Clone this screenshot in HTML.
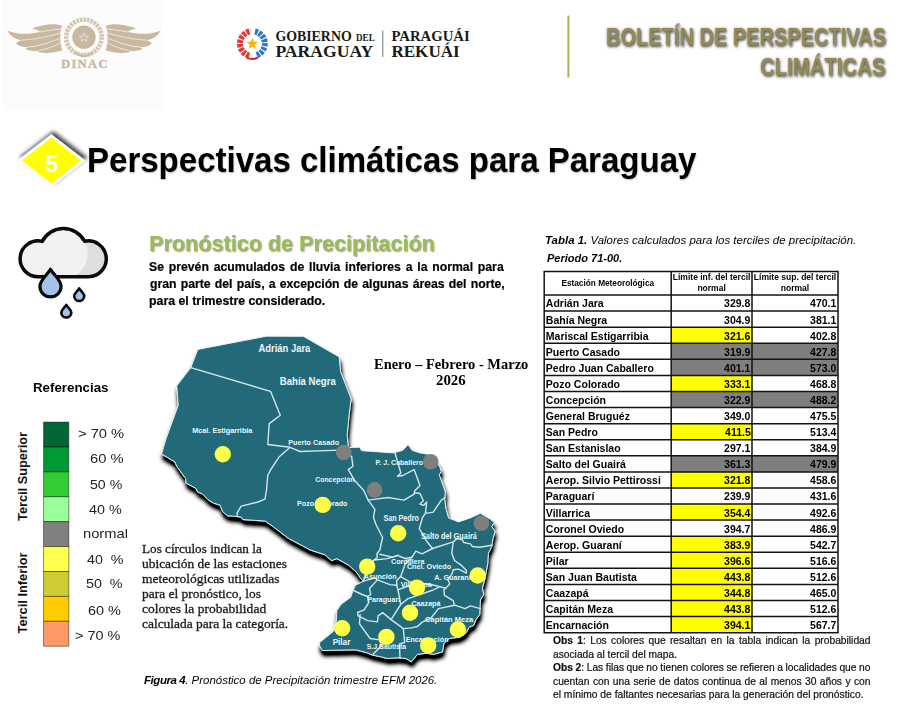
<!DOCTYPE html>
<html lang="es"><head><meta charset="utf-8"><title>Boletín de Perspectivas Climáticas</title>
<style>
html,body{margin:0;padding:0;background:#fff;}
body{width:903px;height:715px;overflow:hidden;font-family:"Liberation Sans",sans-serif;}
#page{position:relative;width:903px;height:715px;overflow:hidden;background:#fff;}
.t{position:absolute;white-space:nowrap;transform-origin:0 0;line-height:normal;margin:0;padding:0;}
.pb{display:inline-block;width:0;height:0;}
svg{position:absolute;left:0;top:0;}
.t{white-space:pre;}
#tb{position:absolute;left:544.2px;top:271.4px;border-collapse:collapse;border-spacing:0;table-layout:fixed;width:293.8px;font-weight:bold;color:#000;}
#tb td,#tb th{border:0;padding:0;margin:0;overflow:hidden;white-space:nowrap;}
#tb th{height:23.6px;font-size:8.7px;line-height:11px;text-align:center;vertical-align:middle;}
#tb td{height:16.08px;font-size:11.3px;line-height:16.08px;}
#tb td.n{text-align:left;}
#tb td.n span{display:inline-block;padding-left:2px;transform:scaleX(.93);transform-origin:0 50%;position:relative;top:.5px;}
#tb td.v{text-align:right;}
#tb td.v span{display:inline-block;padding-right:1.5px;transform:scaleX(.93);transform-origin:100% 50%;position:relative;top:.5px;}
#tb td.y{background:#ffff00;}
#tb td.g{background:#7f7f7f;}
#tb th span{display:inline-block;transform:scaleX(.95);}
#tb th .h2{position:relative;top:-.5px;transform:scaleX(.98);}

</style></head><body>
<div id="page">
<svg id="gfx" width="903" height="715" viewBox="0 0 903 715" font-family="'Liberation Sans', sans-serif">
<defs>
<filter id="msh" x="-10%" y="-10%" width="120%" height="125%"><feGaussianBlur in="SourceAlpha" stdDeviation="2"/><feOffset dx="1.0" dy="4.8"/><feComponentTransfer><feFuncA type="linear" slope="1.35"/></feComponentTransfer><feMerge><feMergeNode/><feMergeNode in="SourceGraphic"/></feMerge></filter>
<filter id="dsh" x="-20%" y="-20%" width="140%" height="150%"><feGaussianBlur in="SourceAlpha" stdDeviation="2.1"/><feOffset dx="1.8" dy="-2.6"/><feComponentTransfer><feFuncA type="linear" slope=".75"/></feComponentTransfer><feMerge><feMergeNode/><feMergeNode in="SourceGraphic"/></feMerge></filter>
</defs>
<rect x="2" y="0" width="161" height="110" fill="#fcfcfc"/>
<rect x="567.4" y="15.5" width="2" height="62" fill="#9bbb59"/>
<g id="logos">
<g transform="translate(0,10) scale(0.18825)">
<g><path d="M330,84 C300,72 250,70 170,97 C190,104 205,110 215,116 C150,132 90,130 40,110 C55,140 80,155 112,160 C100,168 92,172 85,178 C100,192 120,198 145,198 C140,202 138,204 135,206 C155,218 180,220 205,216 C203,219 201,221 200,223 C240,232 290,228 332,214 C318,190 316,120 330,84 Z" fill="#c9b8a0"/><path d="M215,116 C250,110 290,104 328,100" fill="none" stroke="#fcfcfc" stroke-width="4" stroke-linecap="round" opacity=".9"/><path d="M112,160 C180,158 260,140 322,122" fill="none" stroke="#fcfcfc" stroke-width="4" stroke-linecap="round" opacity=".9"/><path d="M145,198 C210,192 270,172 318,150" fill="none" stroke="#fcfcfc" stroke-width="4" stroke-linecap="round" opacity=".9"/><path d="M205,216 C250,208 290,192 320,176" fill="none" stroke="#fcfcfc" stroke-width="4" stroke-linecap="round" opacity=".9"/></g>
<g transform="translate(892,0) scale(-1,1)"><path d="M330,84 C300,72 250,70 170,97 C190,104 205,110 215,116 C150,132 90,130 40,110 C55,140 80,155 112,160 C100,168 92,172 85,178 C100,192 120,198 145,198 C140,202 138,204 135,206 C155,218 180,220 205,216 C203,219 201,221 200,223 C240,232 290,228 332,214 C318,190 316,120 330,84 Z" fill="#c9b8a0"/><path d="M215,116 C250,110 290,104 328,100" fill="none" stroke="#fcfcfc" stroke-width="4" stroke-linecap="round" opacity=".9"/><path d="M112,160 C180,158 260,140 322,122" fill="none" stroke="#fcfcfc" stroke-width="4" stroke-linecap="round" opacity=".9"/><path d="M145,198 C210,192 270,172 318,150" fill="none" stroke="#fcfcfc" stroke-width="4" stroke-linecap="round" opacity=".9"/><path d="M205,216 C250,208 290,192 320,176" fill="none" stroke="#fcfcfc" stroke-width="4" stroke-linecap="round" opacity=".9"/></g>
<circle cx="446" cy="145" r="94" fill="none" stroke="#c9b8a0" stroke-width="24" stroke-dasharray="14 5" opacity=".8"/>
<path d="M400,225 C430,250 465,250 495,225" fill="none" stroke="#c9b8a0" stroke-width="9"/>
<circle cx="446" cy="145" r="62" fill="#c9b8a0"/>
<polygon points="446.0,122.0 451.9,138.9 469.8,139.3 455.5,150.1 460.7,167.2 446.0,157.0 431.3,167.2 436.5,150.1 422.2,139.3 440.1,138.9" fill="none" stroke="#efe8dd" stroke-width="4"/>
</g>
<text x="61.2" y="68.4" font-family="'Liberation Serif', serif" font-weight="bold" font-size="12.3" fill="#c9b8a0" stroke="#c9b8a0" stroke-width=".35" textLength="46.1" lengthAdjust="spacing">DINAC</text>
<path d="M249.19,55.58 A12.4,12.4 0 0 1 250.67,31.32" fill="none" stroke="#dc3a3a" stroke-width="6" stroke-dasharray="3.2 1" stroke-linecap="butt"/>
<path d="M254.98,31.47 A12.4,12.4 0 0 1 256.64,55.25" fill="none" stroke="#2f74d0" stroke-width="6" stroke-dasharray="3 1.1" stroke-linecap="butt"/>
<path d="M246.5,57.5 C250,59.5 254,59.5 258,57.5" fill="none" stroke="#c62f35" stroke-width="2"/>
<polygon points="252.40,37.60 253.93,41.80 258.39,41.95 254.87,44.70 256.10,49.00 252.40,46.50 248.70,49.00 249.93,44.70 246.41,41.95 250.87,41.80" fill="#f6b40e"/>
<text x="275.4" y="40.9" font-family="'Liberation Serif', serif" font-weight="bold" fill="#1a1a1a" font-size="15.3" textLength="76.3" lengthAdjust="spacingAndGlyphs">GOBIERNO</text>
<text x="356" y="40.9" font-family="'Liberation Serif', serif" font-weight="bold" fill="#1a1a1a" font-size="9.5" textLength="18.7" lengthAdjust="spacingAndGlyphs">DEL</text>
<text x="275.4" y="56.8" font-family="'Liberation Serif', serif" font-weight="bold" fill="#1a1a1a" font-size="17.6" textLength="97.9" lengthAdjust="spacingAndGlyphs">PARAGUAY</text>
<rect x="382.3" y="30.5" width="1" height="26.5" fill="#777"/>
<text x="391.4" y="40.9" font-family="'Liberation Serif', serif" font-weight="bold" fill="#1a1a1a" font-size="15.3" textLength="78.3" lengthAdjust="spacingAndGlyphs">PARAGUÁI</text>
<text x="391.4" y="56.8" font-family="'Liberation Serif', serif" font-weight="bold" fill="#1a1a1a" font-size="17.6" textLength="68.3" lengthAdjust="spacingAndGlyphs">REKUÁI</text>
</g>
<g filter="url(#dsh)"><path d="M19.9,160.4 L51.4,135.9 L83.2,160.4 L51.4,185.2 Z" fill="#ffff00" stroke="#fff" stroke-width="2.6" stroke-linejoin="miter"/></g>
<g id="cloud">
<path d="M38.5,276.7 A17.9,17.9 0 1 1 42.2,241.4 A23.95,23.95 0 0 1 84.6,241.3 A17.9,17.9 0 1 1 88.4,276.7 Z" fill="#f2f2f2"/>
<path d="M84.6,241.3 A26,26 0 0 1 73.5,276.7 L88.4,276.7 A17.9,17.9 0 1 0 84.6,241.3 Z" fill="#dedede"/>
<path d="M38.5,276.7 A17.9,17.9 0 1 1 42.2,241.4 A23.95,23.95 0 0 1 84.6,241.3 A17.9,17.9 0 1 1 88.4,276.7 Z" fill="none" stroke="#0b0b0b" stroke-width="3.5" stroke-linejoin="round"/>
<path d="M50.5,269.3 C54,275 61.1,280 61.1,286.3 A10.6,10.6 0 0 1 39.9,286.3 C39.9,280 47,275 50.5,269.3 Z" fill="#a4c2e8" stroke="#0b0b0b" stroke-width="3.2" stroke-linejoin="round"/>
<path d="M79.2,288.3 C81,291.3 84.2,293.3 84.2,296 A5,5 0 0 1 74.2,296 C74.2,293.3 77.4,291.3 79.2,288.3 Z" fill="#a4c2e8" stroke="#0b0b0b" stroke-width="2.6" stroke-linejoin="round"/>
<path d="M66.3,304.8 C68.1,307.8 71.3,309.8 71.3,312.5 A5,5 0 0 1 61.3,312.5 C61.3,309.8 64.5,307.8 66.3,304.8 Z" fill="#a4c2e8" stroke="#0b0b0b" stroke-width="2.6" stroke-linejoin="round"/>
</g>

<rect x="43.6" y="422.10" width="25.2" height="24.90" fill="#006633" stroke="#000" stroke-opacity=".5" stroke-width=".9"/>
<rect x="43.6" y="447.00" width="25.2" height="24.90" fill="#009933" stroke="#000" stroke-opacity=".5" stroke-width=".9"/>
<rect x="43.6" y="471.90" width="25.2" height="24.90" fill="#33cc33" stroke="#000" stroke-opacity=".5" stroke-width=".9"/>
<rect x="43.6" y="496.80" width="25.2" height="24.90" fill="#99ff99" stroke="#000" stroke-opacity=".5" stroke-width=".9"/>
<rect x="43.6" y="521.70" width="25.2" height="24.90" fill="#808080" stroke="#000" stroke-opacity=".5" stroke-width=".9"/>
<rect x="43.6" y="546.60" width="25.2" height="24.90" fill="#ffff4d" stroke="#000" stroke-opacity=".5" stroke-width=".9"/>
<rect x="43.6" y="571.50" width="25.2" height="24.90" fill="#cccc33" stroke="#000" stroke-opacity=".5" stroke-width=".9"/>
<rect x="43.6" y="596.40" width="25.2" height="24.90" fill="#ffcc00" stroke="#000" stroke-opacity=".5" stroke-width=".9"/>
<rect x="43.6" y="621.30" width="25.2" height="24.90" fill="#ff9966" stroke="#000" stroke-opacity=".5" stroke-width=".9"/>
<text transform="translate(26.6,520.9) rotate(-90)" font-size="12" font-weight="bold" fill="#111" textLength="88.9" lengthAdjust="spacingAndGlyphs">Tercil Superior</text>
<text transform="translate(26.6,633.4) rotate(-90)" font-size="12" font-weight="bold" fill="#111" textLength="80.9" lengthAdjust="spacingAndGlyphs">Tercil Inferior</text>
<g id="map">
<path d="M197.8,349.4 L266.4,336.2 L303.3,336.3 L339.2,356.9 L340.5,371.5 L351.1,398.8 L349.1,415.0 L347.2,435.0 L348.3,447.6 L359.6,447.2 L361.6,450.7 L393.5,452.9 L402.8,450.3 L408.1,444.6 L412.1,450.3 L420.0,452.9 L428.0,454.3 L437.0,462.0 L440.0,467.6 L441.3,471.5 L439.3,474.9 L445.3,492.1 L444.6,498.8 L445.8,508.0 L448.5,517.9 L458.5,521.9 L470.4,517.9 L480.4,513.3 L490.4,519.3 L494.4,522.6 L491.7,526.6 L495.0,531.2 L493.0,538.5 L491.7,546.5 L488.4,553.2 L487.7,563.8 L485.0,578.4 L482.4,588.0 L483.7,594.6 L480.4,599.9 L479.7,614.6 L475.7,619.9 L473.8,625.2 L469.1,627.2 L465.8,633.2 L459.8,637.1 L449.2,638.5 L443.9,643.1 L442.5,651.8 L433.2,654.4 L426.6,653.1 L417.3,654.4 L411.3,661.8 L406.0,658.5 L398.0,657.8 L387.4,658.5 L379.4,656.5 L372.8,655.1 L366.1,652.5 L355.5,649.8 L322.3,650.5 L319.6,645.8 L319.6,642.5 L333.6,631.2 L336.2,621.9 L336.9,610.6 L340.9,604.5 L350.8,597.2 L352.8,591.2 L355.5,585.2 L363.5,581.2 L360.8,578.6 L356.8,572.6 L348.9,565.3 L336.9,558.6 L331.6,560.6 L324.9,554.7 L310.3,550.0 L288.4,538.3 L274.6,527.7 L265.3,521.1 L242.7,519.5 L241.4,517.1 L236.1,516.4 L227.4,515.7 L222.8,511.8 L220.1,505.1 L213.5,503.1 L208.2,499.8 L202.2,493.8 L197.5,491.8 L196.2,488.5 L186.2,483.2 L185.6,478.5 L176.9,466.6 L174.9,461.9 L161.6,454.0 L165.6,440.0 L178.2,405.4 L176.8,385.8 L190.8,367.6 Z" fill="#206a79" stroke="#e4f1f4" stroke-width="1" stroke-linejoin="round" filter="url(#msh)"/>
<g fill="none" stroke="#cfe6ec" stroke-width="1.4" stroke-linejoin="round" stroke-linecap="round">
<path d="M190.8,367.6 L270.6,391.4 L280.3,415.2 L269.2,423.6 L267.8,444.5 L290.1,447.3 L300.0,451.5 L339.1,450.1 L343.3,452.9"/>
<path d="M290.1,447.3 L279.0,457.1 L270.5,470.0 L267.8,475.3 L266.5,490.0 L265.0,499.1 L258.0,502.0 L241.2,506.1 L237.0,513.1 L237.5,516.5"/>
<path d="M343.6,452.3 L351.6,456.3 L352.9,466.2 L348.3,469.6 L354.9,480.8 L363.6,490.2 L368.2,500.1 L374.9,509.4 L373.5,517.4 L376.2,525.0 L382.6,537.5 L379.8,550.0 L376.8,554.0 L377.4,557.3 L374.1,560.0 L367.2,566.6 L363.5,581.2"/>
<path d="M394.8,452.3 L400.8,472.9 L397.5,476.2 L402.8,475.5 L414.1,469.6 L420.0,485.5 L414.7,490.8 L414.1,494.1"/>
<path d="M368.2,500.1 L388.2,497.5 L404.1,500.1 L414.1,494.1"/>
<path d="M414.7,492.8 L420.0,493.5 L423.4,500.8 L420.0,504.1 L423.4,505.4 L426.7,502.1 L425.4,513.4 L433.3,512.1 L441.3,500.1 L445.3,497.5"/>
<path d="M425.4,513.4 L422.6,517.3 L419.3,528.6 L426.6,541.2 L432.6,548.5"/>
<path d="M432.6,548.5 L453.2,541.9 L457.1,538.5 L462.5,539.9 L463.8,542.5 L470.4,543.9 L472.4,546.5 L479.7,547.2 L491.7,545.2"/>
<path d="M453.2,541.9 L451.8,553.2 L454.5,560.5 L461.1,565.1 L466.4,570.4 L466.4,573.1 L458.5,569.1 L453.2,569.8 L451.8,574.4 L447.8,579.7 L449.8,584.0 L443.9,590.0 L444.5,595.3 L453.2,600.6 L454.5,605.2"/>
<path d="M379.8,554.3 L392.4,557.1 L398.0,555.3 L400.0,556.5 L405.3,558.5 L412.0,557.1 L415.9,551.2 L421.9,553.8 L432.6,548.5"/>
<path d="M412.0,557.1 L405.3,563.8 L400.7,576.6 L396.7,580.6 L396.7,585.2"/>
<path d="M374.1,560.0 L387.4,558.6 L398.0,555.3"/>
<path d="M363.5,581.2 L375.4,577.9 L377.4,579.9 L369.5,588.5 L370.8,594.5 L367.5,596.5 L362.1,594.5 L353.5,590.5"/>
<path d="M377.4,579.9 L384.7,582.6 L390.0,584.6 L396.7,585.2"/>
<path d="M396.7,585.2 L398.0,589.9 L400.7,604.5 L391.4,619.1"/>
<path d="M367.5,596.5 L368.8,602.5 L364.1,609.8 L357.5,612.5 L358.2,615.8"/>
<path d="M358.2,615.8 L367.5,620.6 L377.4,621.9 L378.1,615.9 L382.7,612.6 L391.4,619.9 L400.7,626.6 L403.3,628.6"/>
<path d="M360.1,614.6 L359.5,623.9 L370.1,638.5 L379.4,639.9 L381.4,645.8 L372.8,654.5"/>
<path d="M403.3,628.6 L404.7,642.5 L399.4,643.9 L400.0,657.8"/>
<path d="M403.3,628.6 L411.3,627.9 L417.3,626.5 L422.6,621.9 L430.6,618.5 L438.5,608.6 L454.5,605.2"/>
<path d="M454.5,605.2 L465.1,608.6 L470.4,605.9 L480.4,608.6"/>
<path d="M398.0,589.9 L408.0,586.0 L420.0,584.0 L431.9,584.7 L439.9,586.6 L433.2,590.0 L408.0,598.6 L400.7,604.5"/>
<path d="M439.9,586.6 L444.5,588.0"/>
<path d="M400.7,576.6 L410.0,582.0 L431.9,584.7"/>
</g>
<g font-weight="bold" fill="#eef6f8">
<text x="258.5" y="351.6" font-size="11" textLength="51.8" lengthAdjust="spacingAndGlyphs">Adrián Jara</text>
<text x="279.8" y="385.2" font-size="11" textLength="56.0" lengthAdjust="spacingAndGlyphs">Bahía Negra</text>
<text x="192.2" y="433.4" font-size="7.5" textLength="60.2" lengthAdjust="spacingAndGlyphs">Mcal. Estigarribia</text>
<text x="288.2" y="445.1" font-size="8" textLength="50.9" lengthAdjust="spacingAndGlyphs">Puerto Casado</text>
<text x="315.3" y="482.3" font-size="8" textLength="39.2" lengthAdjust="spacingAndGlyphs">Concepción</text>
<text x="297.1" y="506.1" font-size="8" textLength="50.4" lengthAdjust="spacingAndGlyphs">Pozo Colorado</text>
<text x="375.6" y="464.8" font-size="8" textLength="47.5" lengthAdjust="spacingAndGlyphs">P. J. Caballero</text>
<text x="383.4" y="520.8" font-size="8.5" textLength="35.5" lengthAdjust="spacingAndGlyphs">San Pedro</text>
<text x="420.9" y="538.7" font-size="8.5" textLength="56.0" lengthAdjust="spacingAndGlyphs">Salto del Guairá</text>
<text x="391" y="564.1" font-size="8" textLength="33.5" lengthAdjust="spacingAndGlyphs">Cordillera</text>
<text x="406.9" y="569.2" font-size="8" textLength="44.2" lengthAdjust="spacingAndGlyphs">Cnel. Oviedo</text>
<text x="363.8" y="579" font-size="8" textLength="32.8" lengthAdjust="spacingAndGlyphs">Asunción</text>
<text x="434.3" y="580.1" font-size="8" textLength="36.4" lengthAdjust="spacingAndGlyphs">A. Guaraní</text>
<text x="400.8" y="586.5" font-size="8" textLength="30.7" lengthAdjust="spacingAndGlyphs">Villarrica</text>
<text x="367.2" y="601.9" font-size="8" textLength="33.0" lengthAdjust="spacingAndGlyphs">Paraguarí</text>
<text x="411.4" y="606.1" font-size="8" textLength="29.1" lengthAdjust="spacingAndGlyphs">Caazapá</text>
<text x="425.1" y="621.9" font-size="8" textLength="48.1" lengthAdjust="spacingAndGlyphs">Capitán Meza</text>
<text x="332.7" y="644.6" font-size="9" textLength="17.6" lengthAdjust="spacingAndGlyphs">Pilar</text>
<text x="366.7" y="648.9" font-size="8" textLength="39.5" lengthAdjust="spacingAndGlyphs">S.J.Bautista</text>
<text x="405.7" y="641.6" font-size="8" textLength="42.8" lengthAdjust="spacingAndGlyphs">Encarnación</text>
</g>
<circle cx="343.7" cy="452.5" r="7.8" fill="#7f7f7f"/>
<circle cx="430.7" cy="461.7" r="7.8" fill="#7f7f7f"/>
<circle cx="374.5" cy="489.9" r="7.8" fill="#7f7f7f"/>
<circle cx="481.4" cy="523.2" r="7.8" fill="#7f7f7f"/>
<circle cx="222.8" cy="454.2" r="8.2" fill="#ffff4a"/>
<circle cx="322.7" cy="504.9" r="8.2" fill="#ffff4a"/>
<circle cx="398.2" cy="533.3" r="8.2" fill="#ffff4a"/>
<circle cx="367.2" cy="566.6" r="8.2" fill="#ffff4a"/>
<circle cx="477.7" cy="575.5" r="8.2" fill="#ffff4a"/>
<circle cx="417" cy="587.6" r="8.2" fill="#ffff4a"/>
<circle cx="410" cy="612.8" r="8.2" fill="#ffff4a"/>
<circle cx="342.2" cy="628.3" r="8.2" fill="#ffff4a"/>
<circle cx="386.4" cy="636.9" r="8.2" fill="#ffff4a"/>
<circle cx="457.9" cy="629.5" r="8.2" fill="#ffff4a"/>
<circle cx="428.2" cy="645.4" r="8.2" fill="#ffff4a"/>
</g>
</svg>
<table id="tb"><colgroup><col style="width:127px"><col style="width:80.8px"><col style="width:86px"></colgroup>
<thead><tr><th><span class="h1">Estación Meteorológica</span></th><th><span class="h2">Límite inf. del tercil<br>normal</span></th><th><span class="h2">Límite sup. del tercil<br>normal</span></th></tr></thead><tbody>
<tr><td class="n"><span>Adrián Jara</span></td><td class="v "><span>329.8</span></td><td class="v "><span>470.1</span></td></tr>
<tr><td class="n"><span>Bahía Negra</span></td><td class="v "><span>304.9</span></td><td class="v "><span>381.1</span></td></tr>
<tr><td class="n"><span>Mariscal Estigarribia</span></td><td class="v y"><span>321.6</span></td><td class="v "><span>402.8</span></td></tr>
<tr><td class="n"><span>Puerto Casado</span></td><td class="v g"><span>319.9</span></td><td class="v g"><span>427.8</span></td></tr>
<tr><td class="n"><span>Pedro Juan Caballero</span></td><td class="v g"><span>401.1</span></td><td class="v g"><span>573.0</span></td></tr>
<tr><td class="n"><span>Pozo Colorado</span></td><td class="v y"><span>333.1</span></td><td class="v "><span>468.8</span></td></tr>
<tr><td class="n"><span>Concepción</span></td><td class="v g"><span>322.9</span></td><td class="v g"><span>488.2</span></td></tr>
<tr><td class="n"><span>General Bruguéz</span></td><td class="v "><span>349.0</span></td><td class="v "><span>475.5</span></td></tr>
<tr><td class="n"><span>San Pedro</span></td><td class="v y"><span>411.5</span></td><td class="v "><span>513.4</span></td></tr>
<tr><td class="n"><span>San Estanislao</span></td><td class="v "><span>297.1</span></td><td class="v "><span>384.9</span></td></tr>
<tr><td class="n"><span>Salto del Guairá</span></td><td class="v g"><span>361.3</span></td><td class="v g"><span>479.9</span></td></tr>
<tr><td class="n"><span>Aerop. Silvio Pettirossi</span></td><td class="v y"><span>321.8</span></td><td class="v "><span>458.6</span></td></tr>
<tr><td class="n"><span>Paraguarí</span></td><td class="v "><span>239.9</span></td><td class="v "><span>431.6</span></td></tr>
<tr><td class="n"><span>Villarrica</span></td><td class="v y"><span>354.4</span></td><td class="v "><span>492.6</span></td></tr>
<tr><td class="n"><span>Coronel Oviedo</span></td><td class="v "><span>394.7</span></td><td class="v "><span>486.9</span></td></tr>
<tr><td class="n"><span>Aerop. Guaraní</span></td><td class="v y"><span>383.9</span></td><td class="v "><span>542.7</span></td></tr>
<tr><td class="n"><span>Pilar</span></td><td class="v y"><span>396.6</span></td><td class="v "><span>516.6</span></td></tr>
<tr><td class="n"><span>San Juan Bautista</span></td><td class="v y"><span>443.8</span></td><td class="v "><span>512.6</span></td></tr>
<tr><td class="n"><span>Caazapá</span></td><td class="v y"><span>344.8</span></td><td class="v "><span>465.0</span></td></tr>
<tr><td class="n"><span>Capitán Meza</span></td><td class="v y"><span>443.8</span></td><td class="v "><span>512.6</span></td></tr>
<tr><td class="n"><span>Encarnación</span></td><td class="v y"><span>394.1</span></td><td class="v "><span>567.7</span></td></tr>
</tbody></table>
<svg id="grid" width="903" height="715" viewBox="0 0 903 715" style="pointer-events:none"><path d="M543.45,271.40H838.75M543.45,295.00H838.75M543.45,311.08H838.75M543.45,327.16H838.75M543.45,343.24H838.75M543.45,359.32H838.75M543.45,375.40H838.75M543.45,391.48H838.75M543.45,407.56H838.75M543.45,423.64H838.75M543.45,439.72H838.75M543.45,455.80H838.75M543.45,471.88H838.75M543.45,487.96H838.75M543.45,504.04H838.75M543.45,520.12H838.75M543.45,536.20H838.75M543.45,552.28H838.75M543.45,568.36H838.75M543.45,584.44H838.75M543.45,600.52H838.75M543.45,616.60H838.75M543.45,632.68H838.75M544.20,271.40V632.68M671.20,271.40V632.68M752.00,271.40V632.68M838.00,271.40V632.68" fill="none" stroke="#141414" stroke-width="1.5"/></svg>
<span class="t" style="left:605.60px;top:23.60px;font:normal bold 23.2px 'Liberation Sans', sans-serif;color:#948a54;transform:scaleX(0.8635);text-shadow:1px 1.5px 3px rgba(60,60,60,.9),0 0 3px rgba(90,90,90,.45);">BOLETÍN DE PERSPECTIVAS</span>
<span class="t" style="left:760.20px;top:53.70px;font:normal bold 23.2px 'Liberation Sans', sans-serif;color:#948a54;transform:scaleX(0.8770);text-shadow:1px 1.5px 3px rgba(60,60,60,.9),0 0 3px rgba(90,90,90,.45);">CLIMÁTICAS</span>
<span class="t" style="left:86.90px;top:140.60px;font:normal bold 34.2px 'Liberation Sans', sans-serif;color:#000;transform:scaleX(0.9658);text-shadow:.5px 1px 1.5px rgba(80,80,80,.45);">Perspectivas climáticas para Paraguay</span>
<span class="t" style="left:45.50px;top:150.60px;font:normal bold 23px 'Liberation Sans', sans-serif;color:#fff;">5</span>
<span class="t" style="left:149.40px;top:230.70px;font:normal bold 22px 'Liberation Sans', sans-serif;color:#9bbb59;transform:scaleX(0.9823);text-shadow:1px 1px 1.5px rgba(90,100,60,.6);">Pronóstico de Precipitación</span>
<span class="t" style="left:149.30px;top:260.40px;font:normal bold 12px 'Liberation Sans', sans-serif;color:#000;transform:scaleX(1.0200);-webkit-text-stroke:.2px #000;word-spacing:1.364px;">Se prevén acumulados de lluvia inferiores a la normal para</span>
<span class="t" style="left:149.50px;top:277.20px;font:normal bold 12px 'Liberation Sans', sans-serif;color:#000;transform:scaleX(1.0200);-webkit-text-stroke:.2px #000;word-spacing:0.762px;">gran parte del país, a excepción de algunas áreas del norte,</span>
<span class="t" style="left:149.30px;top:294.00px;font:normal bold 12px 'Liberation Sans', sans-serif;color:#000;transform:scaleX(1.0286);-webkit-text-stroke:.2px #000;">para el trimestre considerado.</span>
<span class="t" style="left:374.00px;top:356.30px;font:normal bold 14.5px 'Liberation Serif', serif;color:#000;transform:scaleX(0.9979);">Enero – Febrero - Marzo</span>
<span class="t" style="left:435.90px;top:372.20px;font:normal bold 14.5px 'Liberation Serif', serif;color:#000;transform:scaleX(1.0241);">2026</span>
<span class="t" style="left:32.50px;top:380.00px;font:normal bold 13px 'Liberation Sans', sans-serif;color:#000;transform:scaleX(1.0242);">Referencias</span>
<span class="t" style="left:77.60px;top:426.00px;font:normal normal 13px 'Liberation Sans', sans-serif;color:#222;transform:scaleX(1.1311);">&gt; 70 %</span>
<span class="t" style="left:90.20px;top:451.30px;font:normal normal 13px 'Liberation Sans', sans-serif;color:#222;transform:scaleX(1.1336);">60 %</span>
<span class="t" style="left:89.80px;top:477.10px;font:normal normal 13px 'Liberation Sans', sans-serif;color:#222;transform:scaleX(1.0863);">50 %</span>
<span class="t" style="left:89.00px;top:501.50px;font:normal normal 13px 'Liberation Sans', sans-serif;color:#222;transform:scaleX(1.1032);">40 %</span>
<span class="t" style="left:82.80px;top:526.20px;font:normal normal 13px 'Liberation Sans', sans-serif;color:#222;transform:scaleX(1.1321);">normal</span>
<span class="t" style="left:86.80px;top:552.20px;font:normal normal 13px 'Liberation Sans', sans-serif;color:#222;transform:scaleX(1.0977);">40  %</span>
<span class="t" style="left:85.90px;top:575.50px;font:normal normal 13px 'Liberation Sans', sans-serif;color:#222;transform:scaleX(1.1008);">50  %</span>
<span class="t" style="left:88.00px;top:603.10px;font:normal normal 13px 'Liberation Sans', sans-serif;color:#222;transform:scaleX(1.1133);">60 %</span>
<span class="t" style="left:74.90px;top:627.90px;font:normal normal 13px 'Liberation Sans', sans-serif;color:#222;transform:scaleX(1.1116);">&gt; 70 %</span>
<span class="t" style="left:142.30px;top:540.60px;font:normal normal 13px 'Liberation Serif', serif;color:#1a1a1a;transform:scaleX(1.0147);-webkit-text-stroke:.3px #1a1a1a;">Los círculos indican la</span>
<span class="t" style="left:142.30px;top:555.70px;font:normal normal 13px 'Liberation Serif', serif;color:#1a1a1a;transform:scaleX(1.0319);-webkit-text-stroke:.3px #1a1a1a;">ubicación de las estaciones</span>
<span class="t" style="left:142.30px;top:570.80px;font:normal normal 13px 'Liberation Serif', serif;color:#1a1a1a;transform:scaleX(1.0371);-webkit-text-stroke:.3px #1a1a1a;">meteorológicas utilizadas</span>
<span class="t" style="left:142.30px;top:585.90px;font:normal normal 13px 'Liberation Serif', serif;color:#1a1a1a;transform:scaleX(1.0356);-webkit-text-stroke:.3px #1a1a1a;">para el pronóstico, los</span>
<span class="t" style="left:142.30px;top:601.00px;font:normal normal 13px 'Liberation Serif', serif;color:#1a1a1a;transform:scaleX(1.0425);-webkit-text-stroke:.3px #1a1a1a;">colores la probabilidad</span>
<span class="t" style="left:142.30px;top:616.10px;font:normal normal 13px 'Liberation Serif', serif;color:#1a1a1a;transform:scaleX(1.0334);-webkit-text-stroke:.3px #1a1a1a;">calculada para la categoría.</span>
<span class="t" style="left:143.70px;top:673.60px;font:italic normal 11px 'Liberation Sans', sans-serif;color:#000;transform:scaleX(1.0412);"><b style="letter-spacing:-.4px">Figura 4</b>. Pronóstico de Precipitación trimestre EFM 2026.</span>
<span class="t" style="left:545.30px;top:234.00px;font:italic normal 11px 'Liberation Sans', sans-serif;color:#000;transform:scaleX(1.0418);"><b>Tabla 1.</b> Valores calculados para los terciles de precipitación.</span>
<span class="t" style="left:546.50px;top:251.90px;font:italic bold 11px 'Liberation Sans', sans-serif;color:#000;transform:scaleX(1.0013);">Periodo 71-00.</span>
<span class="t" style="left:553.00px;top:635.00px;font:normal normal 10px 'Liberation Sans', sans-serif;color:#111;transform:scaleX(1.0250);-webkit-text-stroke:.2px #111;word-spacing:1.475px;"><b>Obs 1</b>: Los colores que resaltan en la tabla indican la probabilidad</span>
<span class="t" style="left:553.00px;top:648.55px;font:normal normal 10px 'Liberation Sans', sans-serif;color:#111;transform:scaleX(1.0232);-webkit-text-stroke:.2px #111;">asociada al tercil del mapa.</span>
<span class="t" style="left:553.00px;top:662.10px;font:normal normal 10px 'Liberation Sans', sans-serif;color:#111;transform:scaleX(1.0250);-webkit-text-stroke:.2px #111;word-spacing:-0.248px;"><b>Obs 2</b>: Las filas que no tienen colores se refieren a localidades que no</span>
<span class="t" style="left:553.00px;top:675.65px;font:normal normal 10px 'Liberation Sans', sans-serif;color:#111;transform:scaleX(1.0250);-webkit-text-stroke:.2px #111;word-spacing:0.563px;">cuentan con una serie de datos continua de al menos 30 años y con</span>
<span class="t" style="left:553.00px;top:689.20px;font:normal normal 10px 'Liberation Sans', sans-serif;color:#111;transform:scaleX(1.0268);-webkit-text-stroke:.2px #111;">el mínimo de faltantes necesarias para la generación del pronóstico.</span>
</div>
</body></html>
